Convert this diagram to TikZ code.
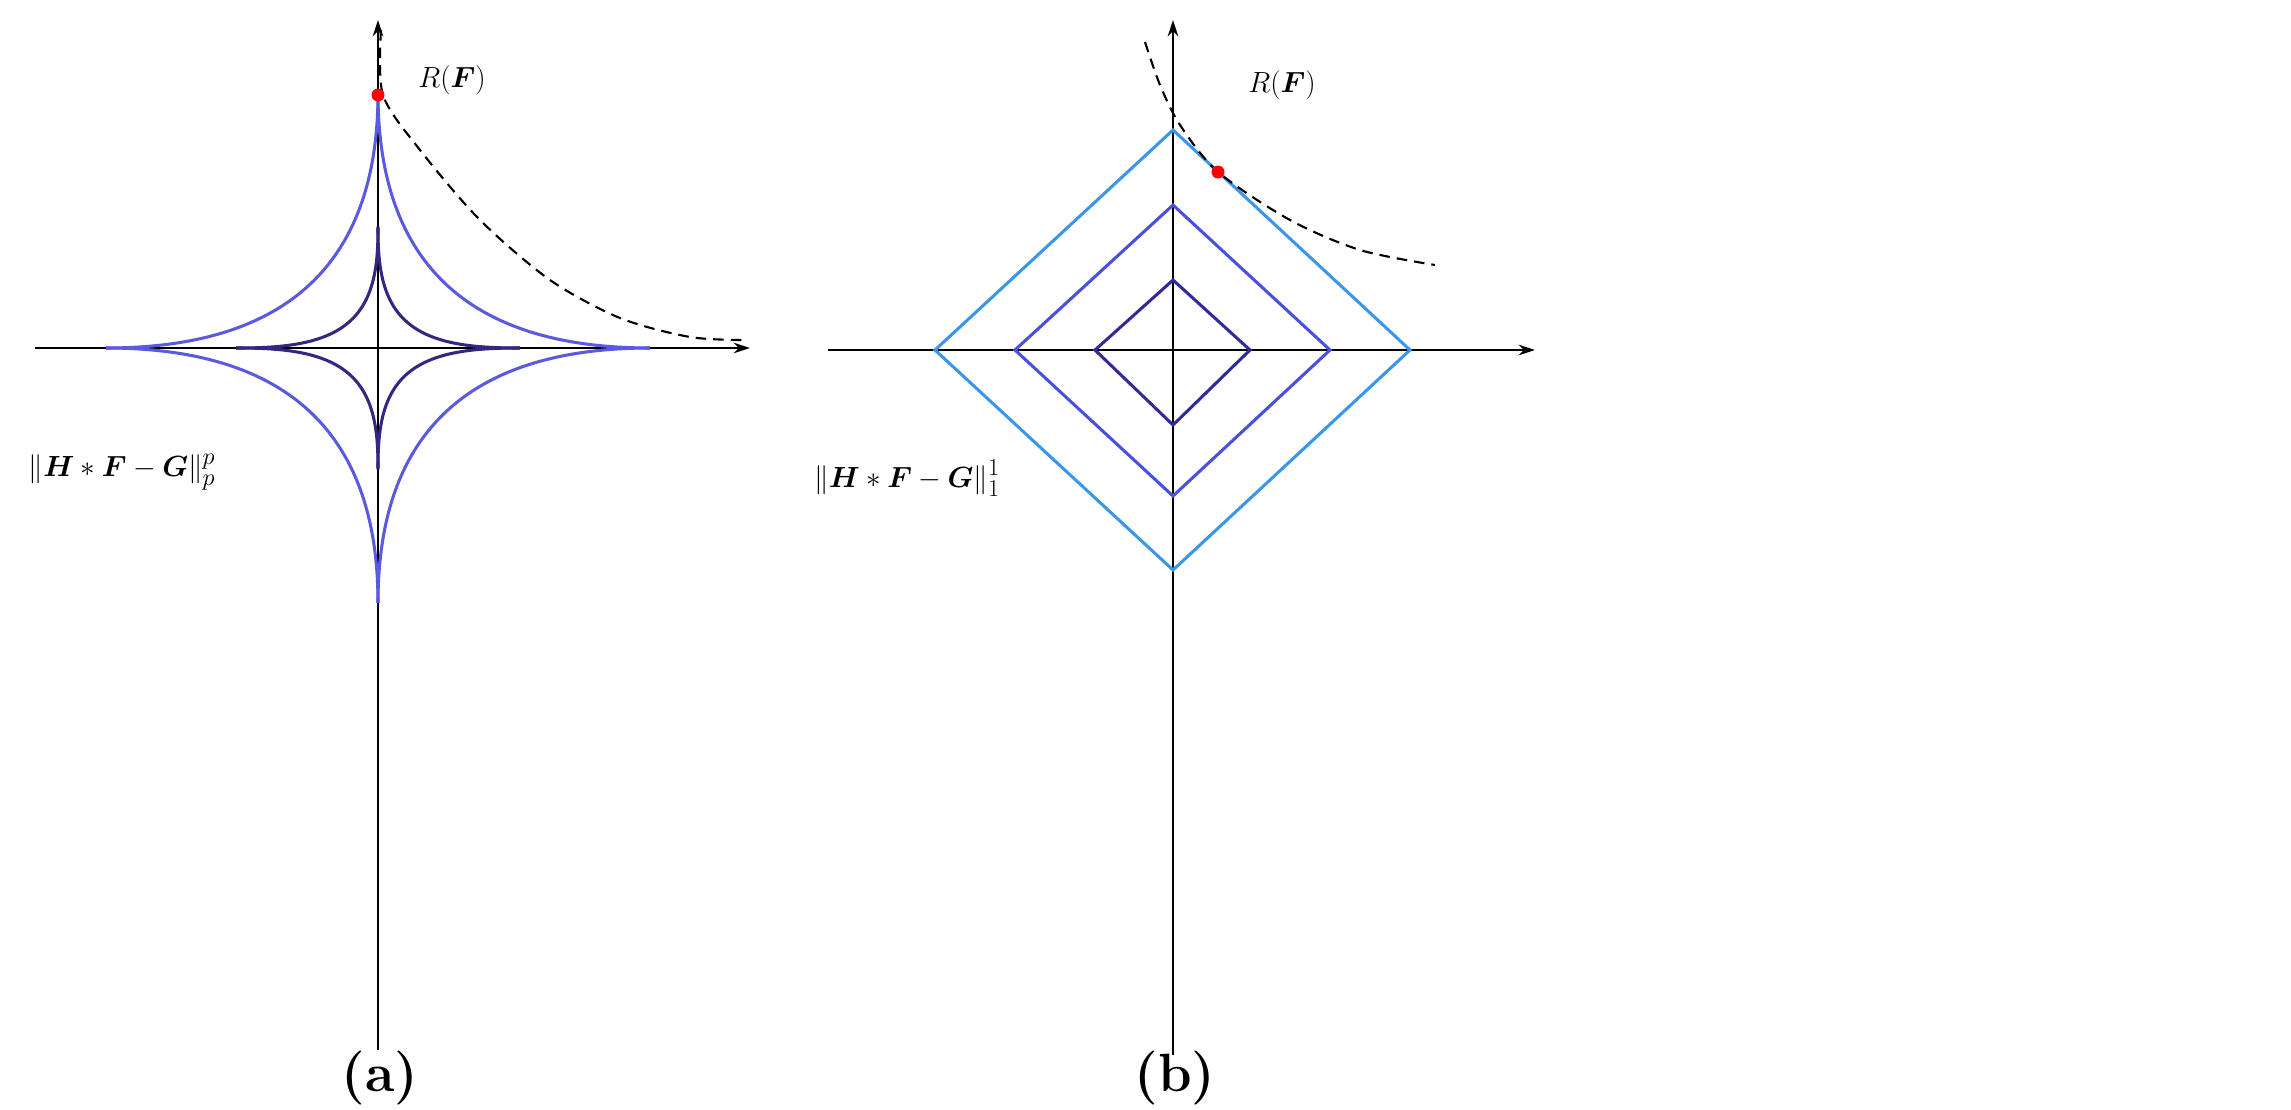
\documentclass[tikz,border=0pt]{standalone}
\usepackage{amsmath,bm}
\usetikzlibrary{arrows.meta}
\definecolor{outerA}{HTML}{5A5AE0}
\definecolor{innerA}{HTML}{33277F}
\definecolor{dOut}{HTML}{3A96EA}
\definecolor{dMid}{HTML}{4A50DE}
\definecolor{dIn}{HTML}{332A99}
\tikzset{ax/.style={line width=2.2pt,-{Stealth[length=14pt,width=9pt]}},
 crv/.style={line width=2.6pt},
 dsh/.style={dashed,line width=1.8pt,dash pattern=on 9pt off 6pt},
 lab/.style={font=\fontsize{28}{32}\selectfont},
 captxt/.style={font=\fontsize{46}{52}\selectfont\bfseries}}
\begin{document}
\begin{tikzpicture}[x=0.03cm,y=-0.03cm]
\useasboundingbox (0,0) rectangle (2291,1109);
% panel a
\draw[ax] (378,1050) -- (378,20);
\draw[ax] (35,348) -- (750,348);
\foreach \sx/\sy in {1/1,-1/1,1/-1,-1/-1}{
\draw[crv,outerA,samples=120,domain=0:90] plot ({378+\sx*272*(cos(\x))^4},{348-\sy*255*(sin(\x))^4});
\draw[crv,innerA,samples=120,domain=0:90] plot ({378+\sx*142*(cos(\x))^4.5},{348-\sy*120*(sin(\x))^4.5});
}
\draw[dsh] plot[smooth] coordinates {(381,30) (383,95) (420,150) (480,220) (550,280) (620,318) (690,337) (745,340)};
\fill[red] (378,95) circle (6.5);
\node[lab] (ra) at (452,80) {$R(\bm F)$};
\node[lab] (na) at (122,472) {$\left\|\bm H*\bm F-\bm G\right\|_p^p$};
\node[captxt] (ca) at (380,1078) {(a)};
% panel b
\draw[ax] (1173,1055) -- (1173,20);
\draw[ax] (828,350) -- (1535,350);
\draw[crv,dOut] (1173,130) -- (1410,350) -- (1173,570) -- (935,350) -- cycle;
\draw[crv,dMid] (1173,205) -- (1330,350) -- (1173,496) -- (1015,350) -- cycle;
\draw[crv,dIn] (1173,280) -- (1250,350) -- (1173,425) -- (1095,350) -- cycle;
\draw[dsh] plot[smooth] coordinates {(1145,42) (1160,85) (1180,125) (1218,172) (1290,220) (1360,250) (1435,265)};
\fill[red] (1218,172) circle (6.5);
\node[lab] (rb) at (1282,85) {$R(\bm F)$};
\node[lab] (nb) at (907,478) {$\left\|\bm H*\bm F-\bm G\right\|_1^1$};
\node[captxt] (cb) at (1175,1078) {(b)};
\end{tikzpicture}
\end{document}
